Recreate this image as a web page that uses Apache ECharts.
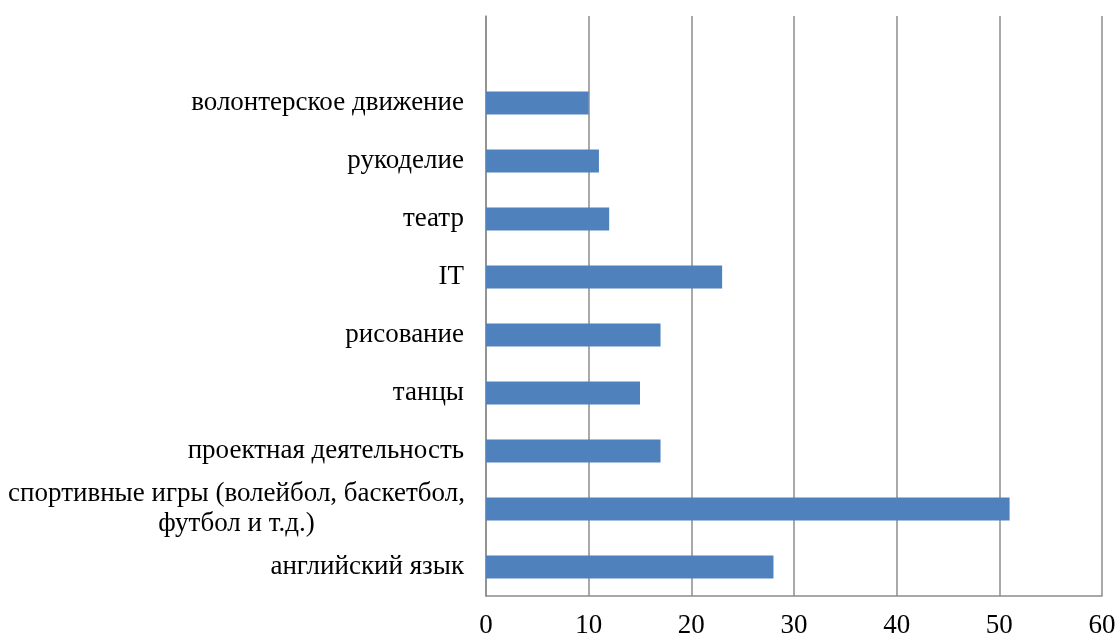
<!DOCTYPE html>
<html>
<head>
<meta charset="utf-8">
<script src="https://cdn.jsdelivr.net/npm/echarts@6/dist/echarts.min.js"></script>
<style>
  html, body { margin: 0; padding: 0; background: #fff; }
  #chart { width: 1118px; height: 637px; }
</style>
</head>
<body>
<div id="chart"></div>
<script>
// категории снизу вверх (верхняя пустая, как в исходной диаграмме)
const categories = [
  'английский язык',
  'спортивные игры (волейбол, баскетбол,\nфутбол и т.д.)',
  'проектная деятельность',
  'танцы',
  'рисование',
  'IT',
  'театр',
  'рукоделие',
  'волонтерское движение',
  ''
]
const values = [28, 51, 17, 15, 17, 23, 12, 11, 10, null]
const xTicks = { min: 0, max: 60, interval: 10 }

const FONT = '"Liberation Serif", "Times New Roman", serif'
const myChart = echarts.init(document.getElementById('chart'))

const option = {
  animation: false,
  grid: { left: 486, right: 16, top: 16, bottom: 41, containLabel: false, outerBoundsMode: 'none' },
  xAxis: {
    type: 'value',
    min: xTicks.min,
    max: xTicks.max,
    interval: xTicks.interval,
    axisLine: { show: true, lineStyle: { color: '#8c8c8c', width: 1.5 } },
    axisTick: { show: false },
    splitLine: { show: true, lineStyle: { color: '#8c8c8c', width: 1.5 } },
    axisLabel: { color: '#000', fontFamily: FONT, fontSize: 27, margin: 16 }
  },
  yAxis: {
    type: 'category',
    data: categories,
    axisLine: { show: true, lineStyle: { color: '#8c8c8c', width: 1.5 } },
    axisTick: { show: false },
    axisLabel: {
      color: '#000',
      fontFamily: FONT,
      fontSize: 27,
      margin: 22,
      align: 'right',
      lineHeight: 30,
      formatter: function (v) {
        if (v.indexOf('\n') < 0) return v
        return v.split('\n').map(function (s) { return '{c|' + s + '}' }).join('\n')
      },
      rich: {
        c: { fontFamily: FONT, fontSize: 27, color: '#000', width: 455, align: 'center', lineHeight: 30 }
      }
    }
  },
  series: [
    {
      type: 'bar',
      data: values,
      barWidth: 23,
      itemStyle: { color: '#4f81bd' }
    }
  ]
}
myChart.setOption(option)
</script>
</body>
</html>
